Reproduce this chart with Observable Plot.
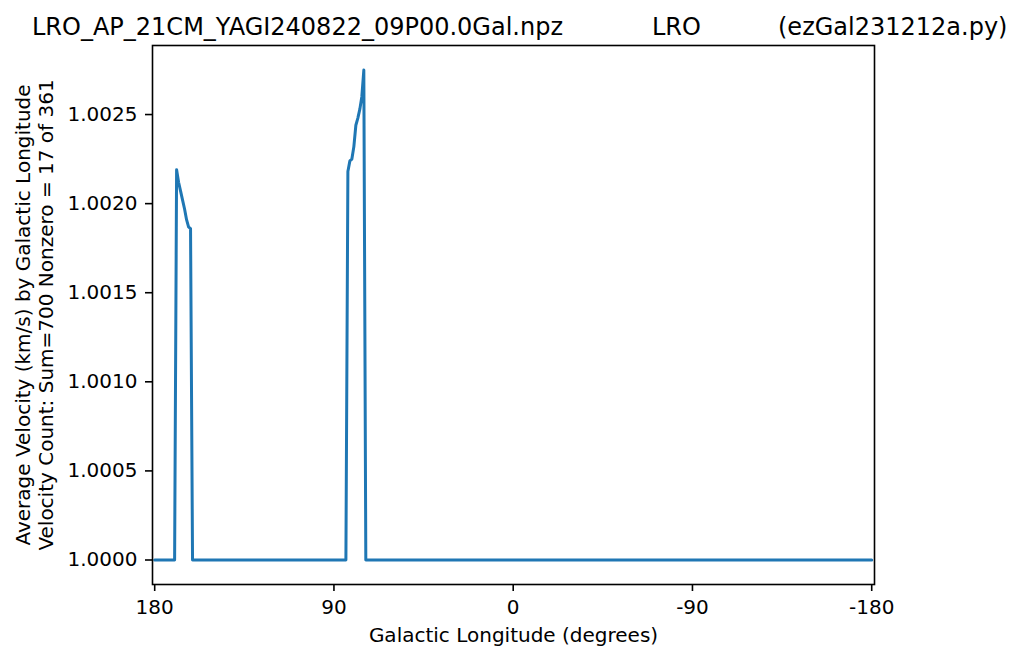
<!DOCTYPE html>
<html>
<head>
<meta charset="utf-8">
<script src="https://cdn.jsdelivr.net/npm/d3@7"></script>
<script src="https://cdn.jsdelivr.net/npm/@observablehq/plot@0.6"></script>
<style>
  html, body { margin: 0; padding: 0; background: white; }
  #wrap { position: relative; width: 1024px; height: 661px; font-family: "DejaVu Sans", sans-serif; }
  .title { position: absolute; top: 15px; font-size: 24px; line-height: 24px; white-space: pre; color: black; }
  #chart { position: absolute; left: 0; top: 0; }
</style>
</head>
<body>
<div id="wrap">
  <div id="chart"></div>
  <span class="title" style="left:32px">LRO_AP_21CM_YAGI240822_09P00.0Gal.npz</span>
  <span class="title" style="left:652px">LRO</span>
  <span class="title" style="left:778px">(ezGal231212a.py)</span>
</div>
<script>
// Galactic longitude grid (categories), 180 down to -180 by 1 degree: 361 bins
const longitudes = d3.range(180, -181, -1);
// Value shown for the empty bins
const emptyVelocity = 1.0;
// Nonzero bins (17 of 361)
const nonzeroLongitudes = [169, 168, 167, 166, 165, 164, 163, 162,
                           83, 82, 81, 80, 79, 78, 77, 76, 75];
const nonzeroVelocities = [1.00219, 1.00212, 1.00207, 1.00202, 1.00197, 1.00191, 1.00187, 1.00186,
                           1.00218, 1.00224, 1.00225, 1.00232, 1.00244, 1.00248, 1.00253, 1.00260, 1.00275];
// Tick labels
const xTicks = [180, 90, 0, -90, -180];
const xTickLabels = ["180", "90", "0", "-90", "-180"];
const yTicks = [1.0000, 1.0005, 1.0010, 1.0015, 1.0020, 1.0025];
const xLabel = "Galactic Longitude (degrees)";
const yLabel1 = "Average Velocity (km/s) by Galactic Longitude";
const yLabel2 = "Velocity Count: Sum=700 Nonzero = 17 of 361";

const lookup = new Map(nonzeroLongitudes.map((l, i) => [l, nonzeroVelocities[i]]));
const data = longitudes.map(l => ({lon: l, vel: lookup.has(l) ? lookup.get(l) : emptyVelocity}));

const chart = Plot.plot({
  width: 1024,
  height: 661,
  marginLeft: 152,
  marginRight: 150,
  marginTop: 45,
  marginBottom: 77,
  style: {fontFamily: "DejaVu Sans, sans-serif", background: "white", color: "black", overflow: "visible"},
  x: {domain: [181.1, -181.4]},
  y: {domain: [0.9998625, 1.0028875]},
  marks: [
    Plot.axisX({ticks: xTicks, tickFormat: d => xTickLabels[xTicks.indexOf(d)], tickSize: 7, tickPadding: 8,
                fontSize: 20, strokeWidth: 1.6, label: null}),
    Plot.axisY({ticks: yTicks, tickFormat: d3.format(".4f"), tickSize: 7, tickPadding: 8,
                fontSize: 20, strokeWidth: 1.6, label: null}),
    Plot.line(data, {x: "lon", y: "vel", stroke: "#1f77b4", strokeWidth: 3, strokeLinejoin: "round"}),
    Plot.frame({stroke: "black", strokeWidth: 1.6}),
    Plot.text([xLabel], {frameAnchor: "bottom", dy: 57, lineAnchor: "bottom", fontSize: 20, fill: "black"}),
    Plot.text([yLabel1], {frameAnchor: "left", dx: -123, rotate: -90, textAnchor: "middle", lineAnchor: "bottom", fontSize: 20, fill: "black"}),
    Plot.text([yLabel2], {frameAnchor: "left", dx: -100, rotate: -90, textAnchor: "middle", lineAnchor: "bottom", fontSize: 20, fill: "black"})
  ]
});
document.getElementById("chart").appendChild(chart);
</script>
</body>
</html>
